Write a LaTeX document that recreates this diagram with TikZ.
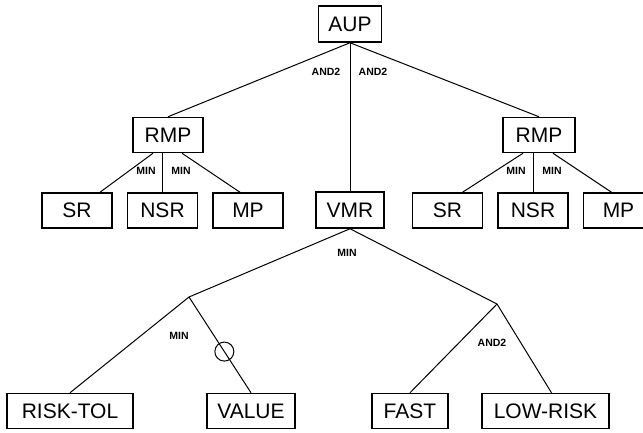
\documentclass[tikz,border=0pt]{standalone}
\usepackage{fontspec}
\setmainfont{Liberation Sans}
\usetikzlibrary{positioning,calc}

\begin{document}
\begin{tikzpicture}[x=1pt, y=-1pt,
        goal/.style={rectangle, draw, line width=1.5pt, minimum width=70pt, minimum height=35pt, inner sep=0pt, font=\fontsize{21}{24}\selectfont},
        op/.style={font=\bfseries\fontsize{10.5}{12}\selectfont},
        link/.style={line width=1pt}]

        \useasboundingbox (0,0) rectangle (643,432);

        \node [goal, minimum width=63pt, minimum height=36pt] (aup) at (350,24) {AUP};
        \node [goal] (rmpl) at (168,135) {RMP};
        \node [goal, minimum width=72pt] (rmpr) at (539,135) {RMP};
        \node [goal, minimum width=68pt, minimum height=36pt] (vmr) at (350,210) {VMR};

        \node [goal] (srl) at (77,210.5) {SR};
        \node [goal, right=14pt of srl] (nsrl) {NSR};
        \node [goal, right=14pt of nsrl] (mpl) {MP};

        \node [goal] (srr) at (447.5,210.5) {SR};
        \node [goal, right=14pt of srr] (nsrr) {NSR};
        \node [goal, right=14pt of nsrr] (mpr) {MP};

        \coordinate (jl) at (189,297);
        \coordinate (jr) at (497,304);

        \node [goal, minimum width=126pt] (risk) at (70,411) {RISK-TOL};
        \node [goal, minimum width=88pt] (value) at (251,411) {VALUE};
        \node [goal, minimum width=76pt] (fast) at (410,411) {FAST};
        \node [goal, minimum width=127pt] (lowrisk) at (545.5,411) {LOW-RISK};

        \draw [link] (aup.south) -- (rmpl.north);
        \draw [link] (aup.south) -- (vmr.north);
        \draw [link] (aup.south) -- (rmpr.north);

        \draw [link] ($(rmpl.south)+(-15,0)$) -- ($(srl.north)+(23,0)$);
        \draw [link] (nsrl.north) -- (nsrl.north |- rmpl.south);
        \draw [link] ($(rmpl.south)+(14,0)$) -- ($(mpl.north)+(-8,0)$);

        \draw [link] ($(rmpr.south)+(-16,0)$) -- ($(srr.north)+(15,0)$);
        \draw [link] (nsrr.north) -- (nsrr.north |- rmpr.south);
        \draw [link] ($(rmpr.south)+(14,0)$) -- ($(mpr.north)+(-7,0)$);

        \draw [link] (vmr.south) -- (jl);
        \draw [link] (vmr.south) -- (jr);
        \draw [link] (jl) -- (risk.north);
        \draw [link] (jl) -- node [circle, draw, line width=1pt, minimum size=19pt, inner sep=0pt, pos=0.57] (neg) {} (value.north);
        \draw [link] (jr) -- (fast.north);
        \draw [link] (jr) -- ($(lowrisk.north)+(6,0)$);

        \node [op] (opa) at (326,72) {AND2};
        \node [op] (opb) at (373,72) {AND2};
        \node [op] (opc) at (146,171) {MIN};
        \node [op] (opd) at (181,171) {MIN};
        \node [op] (ope) at (516,171) {MIN};
        \node [op] (opf) at (552,171) {MIN};
        \node [op] (opg) at (347,253) {MIN};
        \node [op] (oph) at (179,336) {MIN};
        \node [op] (opi) at (492,343) {AND2};
    \end{tikzpicture}
\end{document}
